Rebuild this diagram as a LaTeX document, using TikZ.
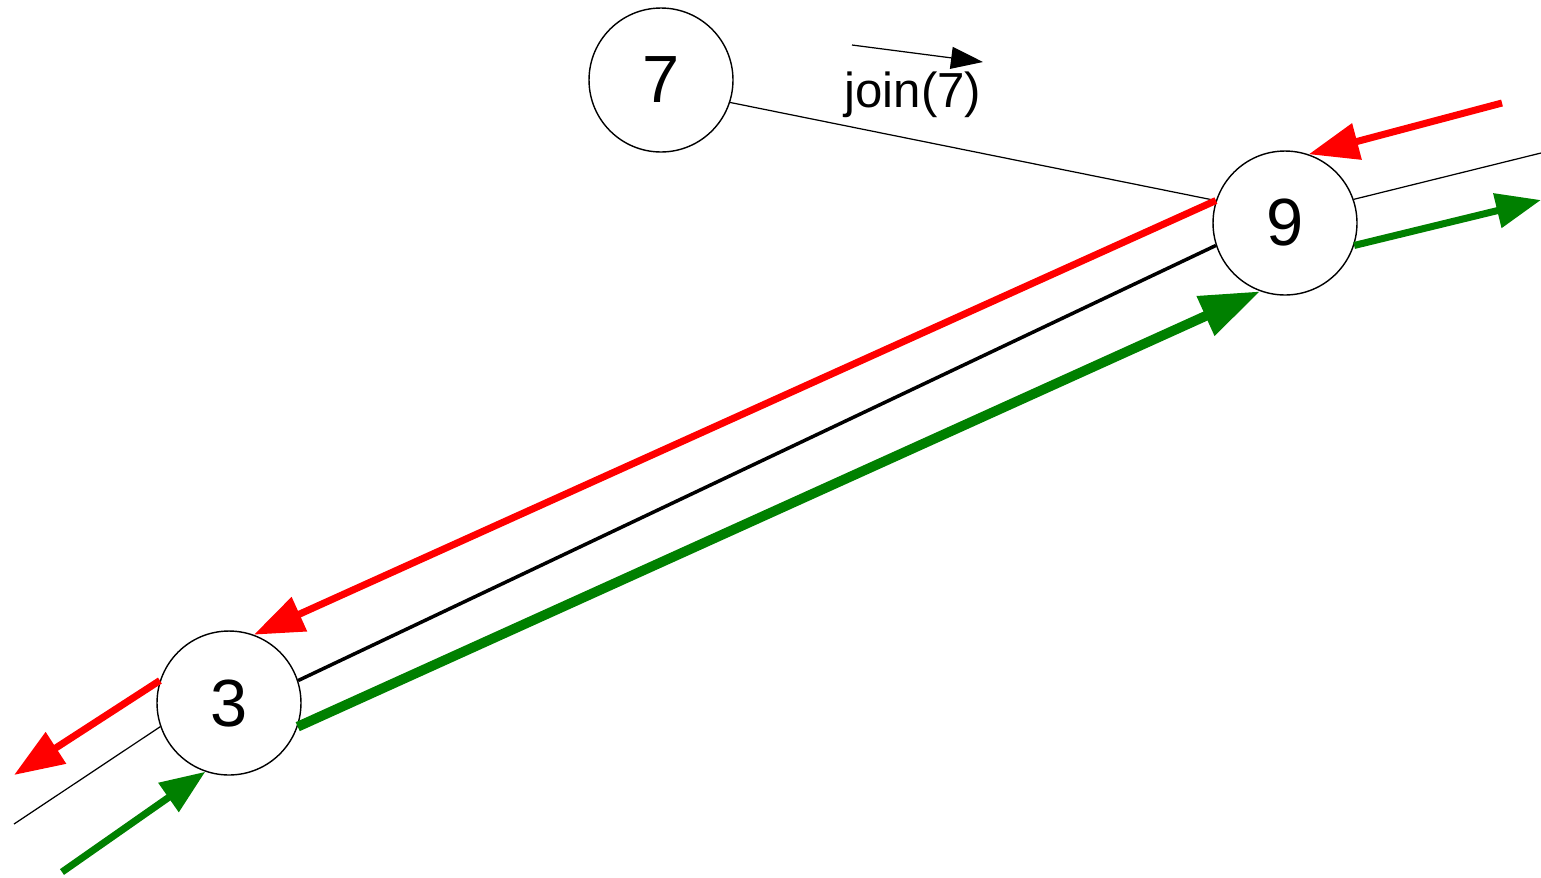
\documentclass[tikz,border=0pt]{standalone}
\usepackage{fontspec}
\setmainfont{Liberation Sans}
\usetikzlibrary{arrows.meta,positioning,calc}
\definecolor{grantgreen}{RGB}{0,128,0}

\begin{document}
\begin{tikzpicture}[
  x=0.02cm, y=-0.02cm,
  peer/.style={draw, circle, line width=0.8pt, minimum size=2.88cm,
    inner sep=0pt, font=\fontsize{38}{45}\selectfont},
  joinline/.style={line width=0.7pt},
  treeedge/.style={line width=2pt},
  prunearrow/.style={red, line width=4pt, -{Triangle[length=1cm, width=0.72cm]}},
  grantarrow/.style={grantgreen, line width=4pt, -{Triangle[length=0.9cm, width=0.68cm]}},
  grantmain/.style={grantgreen, line width=5.6pt, -{Triangle[length=1.2cm, width=0.82cm]}}
]
  \useasboundingbox (0,0) rectangle (1541,877);

  % Nodes
  \node[peer] (n7) at (661,80) {7};
  \node[peer] (n9) at (1285,223) {9};
  \node[peer] (n3) at (229,703) {3};
  \node[font=\fontsize{28}{34}\selectfont] (joinlbl) at (913,95) {join(7)};

  % Free ends
  \coordinate (js) at (852,45);
  \coordinate (je) at (983,62);
  \coordinate (ne1) at (1502,103);
  \coordinate (ne2) at (1541,153);
  \coordinate (ne3) at (1541,200);
  \coordinate (sw1) at (14,775);
  \coordinate (sw2) at (14,824);
  \coordinate (sw3) at (62,872);

  % Arrows
  \draw[joinline, -{Triangle[length=0.64cm, width=0.44cm]}] (js) -- (je);
  \draw[joinline] (n7.342) -- (n9.162);
  \draw[prunearrow] (n9.162) -- (n3.70);
  \draw[treeedge] (n9.198) -- (n3.18);
  \draw[grantmain] (n3.341) -- (n9.250);
  \draw[prunearrow] (ne1) -- (n9.71);
  \draw[joinline] (n9.19) -- (ne2);
  \draw[grantarrow] (n9.342) -- (ne3);
  \draw[prunearrow] (n3.162) -- (sw1);
  \draw[joinline] (n3.199) -- (sw2);
  \draw[grantarrow] (sw3) -- (n3.251);
\end{tikzpicture}
\end{document}
